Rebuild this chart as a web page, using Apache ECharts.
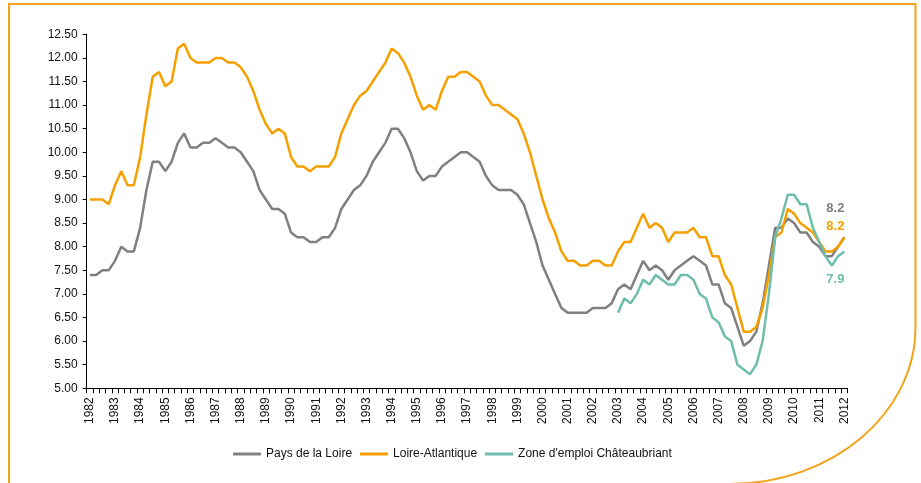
<!DOCTYPE html>
<html>
<head>
<meta charset="utf-8">
<script src="https://cdn.jsdelivr.net/npm/echarts@6/dist/echarts.min.js"></script>
<style>
html,body{margin:0;padding:0;background:#fff;}
#chart{width:921px;height:483px;}
</style>
</head>
<body>
<div id="chart"></div>
<script>
// Quarterly unemployment rate (%), 1982 Q1 .. 2012 Q1
const startYear = 1982;
const endYear = 2012;

const seriesNames = ['Pays de la Loire', 'Loire-Atlantique', "Zone d'emploi Châteaubriant"];

const paysDeLaLoire = [
  7.4, 7.4, 7.5, 7.5, 7.7, 8.0, 7.9, 7.9, 8.4, 9.2,
  9.8, 9.8, 9.6, 9.8, 10.2, 10.4, 10.1, 10.1, 10.2, 10.2,
  10.3, 10.2, 10.1, 10.1, 10.0, 9.8, 9.6, 9.2, 9.0, 8.8,
  8.8, 8.7, 8.3, 8.2, 8.2, 8.1, 8.1, 8.2, 8.2, 8.4,
  8.8, 9.0, 9.2, 9.3, 9.5, 9.8, 10.0, 10.2, 10.5, 10.5,
  10.3, 10.0, 9.6, 9.4, 9.5, 9.5, 9.7, 9.8, 9.9, 10.0,
  10.0, 9.9, 9.8, 9.5, 9.3, 9.2, 9.2, 9.2, 9.1, 8.9,
  8.5, 8.1, 7.6, 7.3, 7.0, 6.7, 6.6, 6.6, 6.6, 6.6,
  6.7, 6.7, 6.7, 6.8, 7.1, 7.2, 7.1, 7.4, 7.7, 7.5,
  7.6, 7.5, 7.3, 7.5, 7.6, 7.7, 7.8, 7.7, 7.6, 7.2,
  7.2, 6.8, 6.7, 6.3, 5.9, 6.0, 6.2, 6.8, 7.6, 8.4,
  8.4, 8.6, 8.5, 8.3, 8.3, 8.1, 8.0, 7.8, 7.8, 8.0,
  8.2
];

const loireAtlantique = [
  9.0, 9.0, 9.0, 8.9, 9.3, 9.6, 9.3, 9.3, 9.9, 10.8,
  11.6, 11.7, 11.4, 11.5, 12.2, 12.3, 12.0, 11.9, 11.9, 11.9,
  12.0, 12.0, 11.9, 11.9, 11.8, 11.6, 11.3, 10.9, 10.6, 10.4,
  10.5, 10.4, 9.9, 9.7, 9.7, 9.6, 9.7, 9.7, 9.7, 9.9,
  10.4, 10.7, 11.0, 11.2, 11.3, 11.5, 11.7, 11.9, 12.2, 12.1,
  11.9, 11.6, 11.2, 10.9, 11.0, 10.9, 11.3, 11.6, 11.6, 11.7,
  11.7, 11.6, 11.5, 11.2, 11.0, 11.0, 10.9, 10.8, 10.7, 10.4,
  10.0, 9.5, 9.0, 8.6, 8.3, 7.9, 7.7, 7.7, 7.6, 7.6,
  7.7, 7.7, 7.6, 7.6, 7.9, 8.1, 8.1, 8.4, 8.7, 8.4,
  8.5, 8.4, 8.1, 8.3, 8.3, 8.3, 8.4, 8.2, 8.2, 7.8,
  7.8, 7.4, 7.2, 6.7, 6.2, 6.2, 6.3, 6.7, 7.4, 8.2,
  8.3, 8.8, 8.7, 8.5, 8.4, 8.3, 8.1, 7.9, 7.9, 8.0,
  8.2
];

// Châteaubriant data starts in 2003 Q1
const chateaubriantStart = 84;
const chateaubriant = [
  6.6, 6.9, 6.8, 7.0, 7.3, 7.2, 7.4, 7.3, 7.2, 7.2,
  7.4, 7.4, 7.3, 7.0, 6.9, 6.5, 6.4, 6.1, 6.0, 5.5,
  5.4, 5.3, 5.5, 6.0, 7.0, 8.2, 8.6, 9.1, 9.1, 8.9,
  8.9, 8.4, 8.1, 7.8, 7.6, 7.8, 7.9
];

const yMin = 5, yMax = 12.5, yStep = 0.5;

// Build quarter categories; only Q1 carries the year label
const categories = [];
for (let y = startYear; y <= endYear; y++) {
  for (let q = 1; q <= 4; q++) {
    if (y === endYear && q > 1) break;
    categories.push(q === 1 ? String(y) : y + ' T' + q);
  }
}
const chatData = categories.map((c, i) => i >= chateaubriantStart ? chateaubriant[i - chateaubriantStart] : null);

const colors = ['#808080', '#F5A000', '#6FBDAB'];
const lastIdx = categories.length - 1;
const font = 'Liberation Sans, Arial, sans-serif';

function endMark(values, color, dy) {
  const v = values[values.length - 1];
  return {
    symbol: 'circle', symbolSize: 0, silent: true,
    data: [{ coord: [lastIdx, v], value: v }],
    label: {
      show: true, position: 'inside', offset: [-9, dy],
      formatter: p => Number(p.value).toFixed(1),
      color: color, fontWeight: 'bold', fontSize: 13, fontFamily: font
    }
  };
}

const chart = echarts.init(document.getElementById('chart'), null, { renderer: 'canvas' });
const frameStyle = { fill: 'none', stroke: '#F3A318', lineWidth: 2 };

chart.setOption({
  animation: false,
  backgroundColor: '#ffffff',
  textStyle: { fontFamily: font },
  graphic: [
    {
      type: 'polyline', silent: true,
      shape: { points: [[9, 495], [9, 4], [915.5, 4], [915.5, 327]] },
      style: frameStyle
    },
    {
      type: 'bezierCurve', silent: true,
      shape: { x1: 915.5, y1: 327, cpx1: 915.5, cpy1: 413.7, cpx2: 832.2, cpy2: 484, x2: 729.5, y2: 484 },
      style: frameStyle
    },
    {
      type: 'line', silent: true,
      shape: { x1: 729.5, y1: 484, x2: 9, y2: 484 },
      style: frameStyle
    }
  ],
  grid: { left: 86.7, right: 73.5, top: 34.3, bottom: 94.7 },
  legend: {
    data: seriesNames,
    left: 228, top: 443,
    icon: 'rect', itemWidth: 28, itemHeight: 3, itemGap: 8,
    textStyle: { fontSize: 12, color: '#111', fontFamily: font }
  },
  xAxis: {
    type: 'category',
    data: categories,
    boundaryGap: true,
    axisLine: { lineStyle: { color: '#000', width: 1 } },
    axisTick: { show: true, interval: 0, length: 5, lineStyle: { color: '#000' } },
    axisLabel: {
      interval: 3, rotate: 90, margin: 9, fontSize: 12, color: '#111', fontFamily: font,
      formatter: v => v.length === 4 ? v : ''
    },
    splitLine: { show: false }
  },
  yAxis: {
    type: 'value',
    min: yMin, max: yMax, interval: yStep,
    axisLine: { show: true, lineStyle: { color: '#000', width: 1 } },
    axisTick: { show: true, length: 4, lineStyle: { color: '#000' } },
    axisLabel: { margin: 9, fontSize: 12, color: '#111', fontFamily: font, formatter: v => v.toFixed(2) },
    splitLine: { show: false }
  },
  series: [
    {
      name: seriesNames[0], type: 'line', data: paysDeLaLoire,
      showSymbol: false, symbol: 'none', color: colors[0],
      lineStyle: { width: 2.5, color: colors[0] },
      markPoint: endMark(paysDeLaLoire, colors[0], -29)
    },
    {
      name: seriesNames[1], type: 'line', data: loireAtlantique,
      showSymbol: false, symbol: 'none', color: colors[1],
      lineStyle: { width: 2.5, color: colors[1] },
      markPoint: endMark(loireAtlantique, colors[1], -11)
    },
    {
      name: seriesNames[2], type: 'line', data: chatData,
      showSymbol: false, symbol: 'none', color: colors[2],
      lineStyle: { width: 2.5, color: colors[2] },
      markPoint: endMark(chateaubriant, colors[2], 28)
    }
  ]
});
</script>
</body>
</html>
